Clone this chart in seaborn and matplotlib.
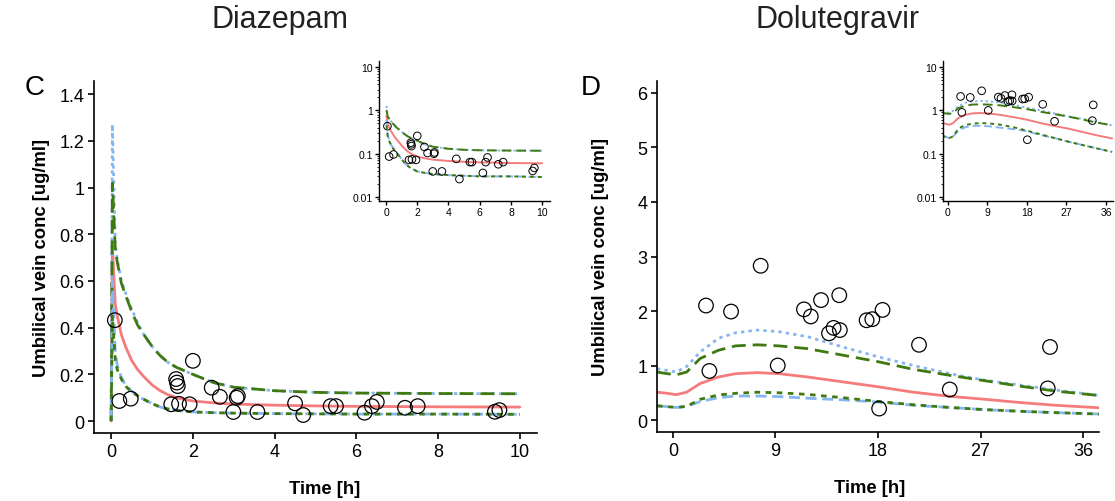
import numpy as np
import pandas as pd
import matplotlib
matplotlib.use("Agg")
import matplotlib.pyplot as plt
import seaborn as sns
from matplotlib.ticker import FixedLocator, FixedFormatter, LogLocator, NullFormatter

# ---------------- Data ----------------
# Diazepam (panel C)
dz_time = [0, 0.03, 0.1, 0.15, 0.25, 0.35, 0.5, 0.65, 0.8, 1.0, 1.2, 1.4, 1.6, 2, 2.5, 3, 4, 5, 6, 8, 10]
dz_median = [0, 0.75, 0.50, 0.45, 0.37, 0.32, 0.26, 0.22, 0.19, 0.155, 0.13, 0.112, 0.10, 0.086, 0.078, 0.073, 0.068, 0.065, 0.063, 0.061, 0.06]
dz_blue_hi = [0, 1.27, 0.76, 0.69, 0.60, 0.55, 0.48, 0.42, 0.37, 0.32, 0.28, 0.25, 0.23, 0.20, 0.165, 0.145, 0.13, 0.123, 0.12, 0.118, 0.117]
dz_green_hi = [0, 1.02, 0.74, 0.68, 0.59, 0.54, 0.47, 0.41, 0.37, 0.32, 0.28, 0.25, 0.23, 0.20, 0.165, 0.145, 0.13, 0.123, 0.12, 0.118, 0.117]
dz_green_lo = [0, 0.45, 0.26, 0.22, 0.18, 0.15, 0.125, 0.108, 0.093, 0.075, 0.06, 0.052, 0.046, 0.039, 0.036, 0.034, 0.032, 0.031, 0.030, 0.030, 0.029]
dz_blue_lo = [0, 0.60, 0.29, 0.24, 0.185, 0.155, 0.128, 0.108, 0.093, 0.075, 0.06, 0.052, 0.046, 0.039, 0.036, 0.034, 0.032, 0.031, 0.030, 0.030, 0.029]
dz_obs_t = [0.09, 0.2, 0.48, 1.47, 1.59, 1.61, 1.63, 1.66, 1.92, 2.0, 2.46, 2.66, 2.99, 3.07, 3.1,
            3.58, 4.5, 4.7, 5.37, 5.5, 6.2, 6.38, 6.5, 7.19, 7.5, 9.39, 9.5]
dz_obs_c = [0.432, 0.086, 0.096, 0.072, 0.18, 0.165, 0.15, 0.074, 0.072, 0.258, 0.143, 0.104, 0.039, 0.1, 0.107,
            0.039, 0.076, 0.026, 0.064, 0.064, 0.036, 0.064, 0.082, 0.057, 0.064, 0.04, 0.047]

# Dolutegravir (panel D)
dg_time = [-1.4, -0.5, 0.3, 1.2, 2.4, 4, 5.5, 7.4, 9.3, 11.8, 14.9, 18, 21.1, 24.3, 27.4, 30.5, 33.6, 37.4]
dg_median = [0.51, 0.49, 0.465, 0.51, 0.67, 0.79, 0.85, 0.87, 0.85, 0.79, 0.70, 0.61, 0.51, 0.435, 0.38, 0.32, 0.27, 0.225]
dg_blue_hi = [0.94, 0.91, 0.88, 0.98, 1.25, 1.50, 1.60, 1.65, 1.62, 1.53, 1.34, 1.16, 1.0, 0.85, 0.73, 0.64, 0.55, 0.45]
dg_green_hi = [0.88, 0.85, 0.83, 0.88, 1.13, 1.28, 1.36, 1.38, 1.36, 1.31, 1.19, 1.07, 0.93, 0.82, 0.72, 0.62, 0.53, 0.45]
dg_green_lo = [0.26, 0.245, 0.23, 0.25, 0.38, 0.46, 0.49, 0.51, 0.50, 0.47, 0.41, 0.34, 0.28, 0.23, 0.19, 0.16, 0.135, 0.11]
dg_blue_lo = [0.26, 0.245, 0.23, 0.25, 0.34, 0.41, 0.44, 0.44, 0.43, 0.40, 0.37, 0.33, 0.27, 0.23, 0.19, 0.16, 0.135, 0.11]
dg_obs_t = [2.9, 3.2, 5.1, 7.7, 9.2, 11.5, 12.1, 13.0, 13.7, 14.1, 14.6, 14.65, 17.0, 17.5, 18.1, 18.4, 21.6, 24.3, 32.9, 33.1]
dg_obs_c = [2.1, 0.9, 1.99, 2.83, 1.0, 2.03, 1.9, 2.2, 1.59, 1.69, 2.29, 1.65, 1.83, 1.85, 0.21, 2.02, 1.38, 0.56, 0.58, 1.34]

main_yticks_C = [0, 0.2, 0.4, 0.6, 0.8, 1, 1.2, 1.4]
main_yticklabels_C = ["0", "0.2", "0.4", "0.6", "0.8", "1", "1.2", "1.4"]
main_xticks_C = [0, 2, 4, 6, 8, 10]
main_yticks_D = [0, 1, 2, 3, 4, 5, 6]
main_xticks_D = [0, 9, 18, 27, 36]
inset_yticks = [0.01, 0.1, 1, 10]
inset_yticklabels = ["0.01", "0.1", "1", "10"]

# ---------------- Style ----------------
sns.set_style("ticks")
plt.rcParams['font.family'] = ['Liberation Sans', 'DejaVu Sans']
plt.rcParams['text.color'] = 'black'
plt.rcParams['axes.labelcolor'] = 'black'
plt.rcParams['xtick.color'] = 'black'
plt.rcParams['ytick.color'] = 'black'

RED = "#F47C7C"
BLUE = "#86B6F0"
GREEN = "#3F7A10"

fig = plt.figure(figsize=(11.15, 5.02), dpi=100)

def draw_curves(ax, t, med, bhi, ghi, glo, blo, lw, log=False):
    df = pd.DataFrame({"t": t, "med": med, "bhi": bhi, "ghi": ghi, "glo": glo, "blo": blo})
    specs = [
        ("med", RED, "-"),
        ("bhi", BLUE, (0, (1.2, 1.5))),
        ("ghi", GREEN, (0, (5, 2.5))),
        ("blo", BLUE, (0, (4, 2))),
        ("glo", GREEN, (0, (2, 2))),
    ]
    for col, colr, ls in specs:
        d = df[df[col] > 0] if log else df
        sns.lineplot(data=d, x="t", y=col, color=colr, linestyle=ls, linewidth=lw,
                     sort=False, estimator=None, ax=ax, zorder=2)

def draw_obs(ax, t, c, s, lw):
    od = pd.DataFrame({"t": t, "c": c})
    sns.scatterplot(data=od, x="t", y="c", s=s, facecolor="none", edgecolor="black",
                    linewidth=lw, ax=ax, zorder=3)

def style_axes(ax, fs, lw):
    sns.despine(ax=ax)
    for sp in ("left", "bottom"):
        ax.spines[sp].set_linewidth(lw)
        ax.spines[sp].set_color("black")
    ax.tick_params(axis="both", direction="out", labelsize=fs, color="black",
                   labelcolor="black", width=lw, length=4, pad=3)
    ax.set_xlabel("")
    ax.set_ylabel("")

# ---- Panel C main ----
axC = fig.add_axes([94/1115, 1-434/502, 443/1115, 352/502])
draw_curves(axC, dz_time, dz_median, dz_blue_hi, dz_green_hi, dz_green_lo, dz_blue_lo, 2.0)
draw_obs(axC, dz_obs_t, dz_obs_c, 110, 0.9)
axC.set_xlim(-0.42, 10.42)
axC.set_ylim(-0.051, 1.456)
axC.yaxis.set_major_locator(FixedLocator(main_yticks_C))
axC.yaxis.set_major_formatter(FixedFormatter(main_yticklabels_C))
axC.xaxis.set_major_locator(FixedLocator(main_xticks_C))
style_axes(axC, 13, 1.2)
axC.set_ylabel("Umbilical vein conc [ug/ml]", fontsize=13.3, fontweight="bold")
axC.set_xlabel("Time [h]", fontsize=13.3, fontweight="bold")
axC.yaxis.set_label_coords(-0.10, 0.5)
axC.xaxis.set_label_coords(0.52, -0.133)

# ---- Panel D main ----
axD = fig.add_axes([657/1115, 1-433/502, 442/1115, 351/502])
draw_curves(axD, dg_time, dg_median, dg_blue_hi, dg_green_hi, dg_green_lo, dg_blue_lo, 2.0)
draw_obs(axD, dg_obs_t, dg_obs_c, 110, 0.9)
axD.set_xlim(-1.4, 37.4)
axD.set_ylim(-0.22, 6.22)
axD.yaxis.set_major_locator(FixedLocator(main_yticks_D))
axD.xaxis.set_major_locator(FixedLocator(main_xticks_D))
style_axes(axD, 13, 1.2)
axD.set_ylabel("Umbilical vein conc [ug/ml]", fontsize=13.3, fontweight="bold")
axD.set_xlabel("Time [h]", fontsize=13.3, fontweight="bold")
axD.yaxis.set_label_coords(-0.109, 0.5)
axD.xaxis.set_label_coords(0.48, -0.133)

# ---- Insets ----
def inset(rect, t, med, bhi, ghi, glo, blo, ot, oc, xlim, xticks):
    ax = fig.add_axes(rect)
    ax.set_yscale("log")
    draw_curves(ax, t, med, bhi, ghi, glo, blo, 1.4, log=True)
    draw_obs(ax, ot, oc, 30, 0.7)
    ax.set_xlim(*xlim)
    ax.set_ylim(0.0081, 13.8)
    ax.yaxis.set_major_locator(FixedLocator(inset_yticks))
    ax.yaxis.set_major_formatter(FixedFormatter(inset_yticklabels))
    ax.yaxis.set_minor_locator(LogLocator(base=10, subs=np.arange(2, 10)))
    ax.yaxis.set_minor_formatter(NullFormatter())
    ax.xaxis.set_major_locator(FixedLocator(xticks))
    style_axes(ax, 7.5, 1.0)
    ax.tick_params(axis="both", length=3, pad=1.5)
    ax.tick_params(axis="y", which="minor", length=1.5, width=0.6, color="black")
    ax.set_facecolor("none")
    return ax

inset([379/1115, 1-202/502, 171/1115, 140/502], dz_time, dz_median, dz_blue_hi, dz_green_hi,
      dz_green_lo, dz_blue_lo, dz_obs_t, dz_obs_c, (-0.45, 10.5), main_xticks_C)
inset([943/1115, 1-202/502, 170/1115, 140/502], dg_time, dg_median, dg_blue_hi, dg_green_hi,
      dg_green_lo, dg_blue_lo, dg_obs_t, dg_obs_c, (-1.1, 37.6), main_xticks_D)

# ---- Titles and panel letters ----
fig.text(280/1115, 1-20/502, "Diazepam", fontsize=22, ha="center", va="center", color="#222222")
fig.text(838/1115, 1-20/502, "Dolutegravir", fontsize=22, ha="center", va="center", color="#222222")
fig.text(35/1115, 1-88/502, "C", fontsize=20, ha="center", va="center")
fig.text(591/1115, 1-88/502, "D", fontsize=20, ha="center", va="center")

fig.savefig("out.png", dpi=100)
